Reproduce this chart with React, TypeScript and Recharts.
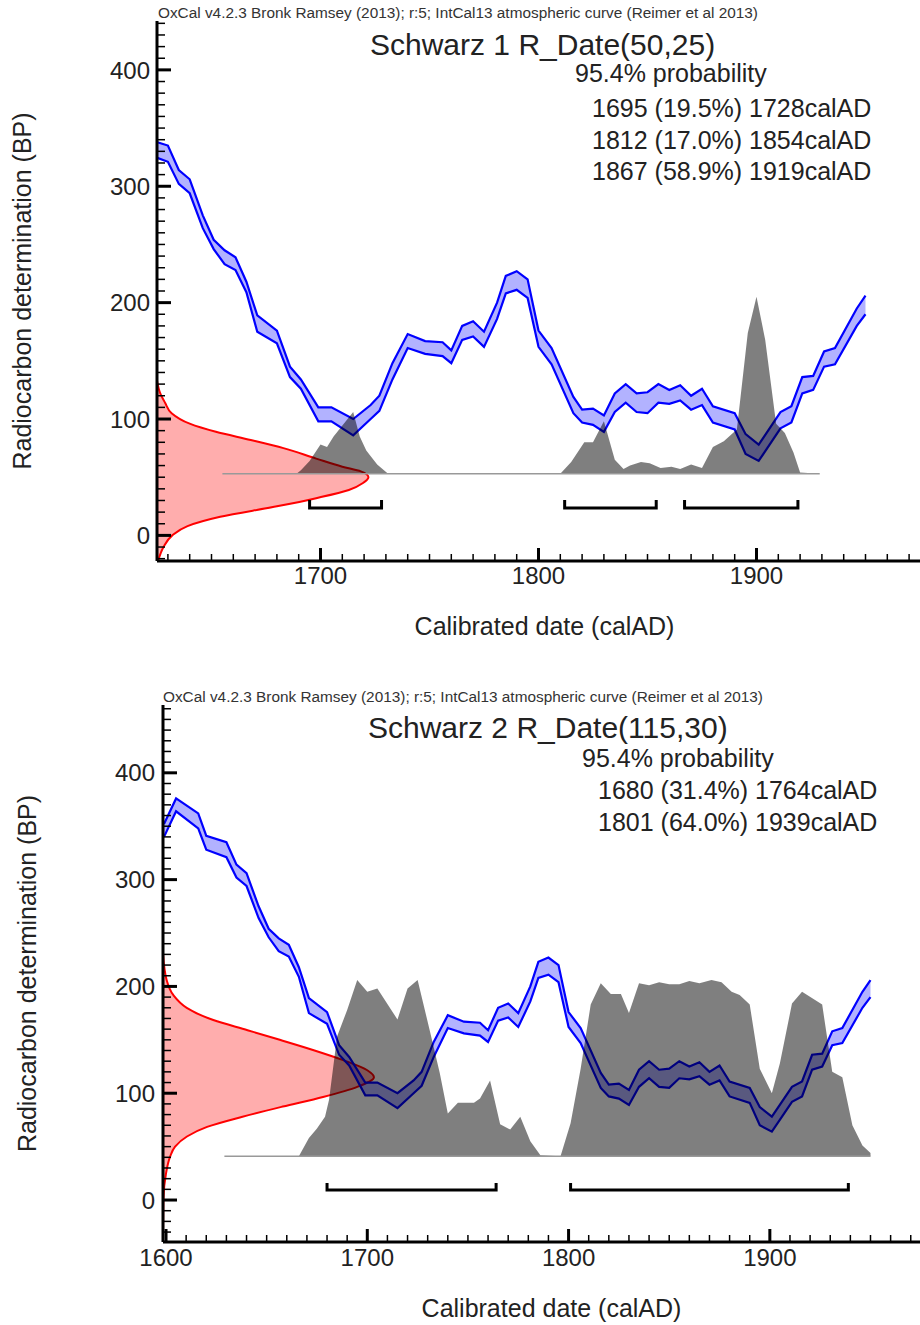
import React from 'react'
import { ComposedChart, Area, Line, XAxis, YAxis } from 'recharts'

// IntCal13 atmospheric curve: calAD year, upper and lower edge (BP)
const calYears = [1599, 1605, 1616, 1620, 1630, 1635, 1640, 1646, 1651, 1656, 1661, 1666, 1671, 1680, 1686, 1691, 1699, 1705, 1715, 1723, 1727, 1733, 1740, 1748, 1756, 1760, 1765, 1770, 1775, 1781, 1785, 1790, 1795, 1800, 1806, 1816, 1820, 1825, 1830, 1835, 1840, 1845, 1850, 1855, 1860, 1865, 1870, 1875, 1880, 1890, 1895, 1901, 1911, 1916, 1921, 1926, 1931, 1936, 1946, 1950]
const calHi = [352, 376, 362, 341, 335, 314, 306, 275, 254, 245, 239, 218, 189, 176, 145, 134, 110, 110, 100, 112, 120, 148, 173, 167, 166, 159, 180, 184, 175, 200, 223, 227, 220, 176, 161, 119, 108, 109, 103, 122, 130, 122, 123, 130, 125, 129, 120, 126, 111, 105, 87, 78, 106, 111, 136, 137, 158, 161, 195, 206]
const calLo = [340, 364, 348, 328, 321, 302, 294, 264, 246, 233, 228, 209, 175, 165, 136, 126, 98, 98, 86, 100, 107, 134, 161, 156, 154, 148, 168, 171, 162, 186, 208, 211, 204, 162, 147, 105, 97, 95, 89, 106, 114, 106, 105, 114, 113, 116, 108, 112, 97, 91, 70, 64, 92, 97, 122, 125, 145, 147, 180, 190]

const header = 'OxCal v4.2.3 Bronk Ramsey (2013); r:5; IntCal13 atmospheric curve (Reimer et al 2013)'
const probLabel = '95.4% probability'

// Schwarz 1
const s1Name = 'Schwarz 1'
const s1Mean = 50
const s1Sigma = 25
const s1From = [1695, 1812, 1867]
const s1To = [1728, 1854, 1919]
const s1Pct = ['19.5', '17.0', '58.9']
const s1HistYears = [1655, 1689, 1691, 1695, 1700, 1703, 1706, 1715, 1718, 1721, 1726, 1731, 1810, 1815, 1821, 1825, 1830, 1835, 1839, 1842, 1847, 1851, 1856, 1861, 1865, 1870, 1875, 1880, 1885, 1891, 1896, 1900, 1904, 1909, 1913, 1917, 1920, 1929]
const s1HistH = [0, 0, 3, 11, 25, 23, 32, 53, 32, 20, 8, 0, 0, 10, 27, 27, 45, 12, 4, 7, 10, 9, 5, 6, 4, 8, 5, 23, 28, 38, 121, 152, 115, 43, 35, 18, 1, 0]
const s1RedBp = [133, 122, 114, 105, 96, 89, 82, 75, 66, 59, 55, 50, 45, 39, 32, 25, 16, 8, 0, -10, -22]
const s1RedYear = [1625, 1626.5, 1628.7, 1631.7, 1640, 1652, 1668, 1683, 1698, 1710, 1718.5, 1722, 1719.5, 1713, 1698, 1680, 1654, 1639, 1632, 1628, 1625.5]

// Schwarz 2
const s2Name = 'Schwarz 2'
const s2Mean = 115
const s2Sigma = 30
const s2From = [1680, 1801]
const s2To = [1764, 1939]
const s2Pct = ['31.4', '64.0']
const s2HistYears = [1629, 1666, 1671, 1675, 1679, 1681, 1685, 1690, 1695, 1700, 1705, 1715, 1720, 1725, 1731, 1736, 1740, 1745, 1753, 1756, 1761, 1766, 1771, 1776, 1781, 1786, 1796, 1801, 1806, 1811, 1816, 1821, 1826, 1830, 1835, 1840, 1845, 1850, 1855, 1860, 1865, 1871, 1876, 1881, 1885, 1890, 1895, 1901, 1905, 1911, 1916, 1926, 1931, 1936, 1941, 1946, 1950]
const s2HistH = [0, 0, 17, 26, 37, 53, 112, 137, 165, 154, 157, 128, 157, 165, 118, 78, 40, 50, 50, 54, 71, 30, 25, 37, 14, 1, 0, 31, 82, 142, 162, 152, 152, 134, 162, 160, 163, 161, 161, 164, 162, 165, 163, 154, 151, 142, 82, 59, 87, 143, 154, 142, 79, 74, 29, 10, 3]
const s2RedBp = [231, 206, 192, 180, 168.5, 159, 150, 140.5, 131, 121.5, 115, 106, 96.5, 87.5, 78, 68.5, 59.5, 50, 40.5, 25, 0, -39]
const s2RedYear = [1598.5, 1600.3, 1603.6, 1610.3, 1623.5, 1640.5, 1656.5, 1673, 1688, 1700, 1703.3, 1695, 1678, 1658, 1638, 1620.4, 1610.4, 1604.5, 1602, 1600, 1598.7, 1598.5]

const FONT = '"Liberation Sans", Arial, Helvetica, sans-serif'
const INK = '#222'

const calData = calYears.map((year, i) => ({ year, hi: calHi[i], lo: calLo[i] }))

function steps(from: number, to: number, step: number) {
  const r: number[] = []
  for (let v = from; v <= to; v += step) r.push(v)
  return r
}

const makeXTick = (margin: number) => (props: any) => {
  const { x, y, payload } = props
  const v = Number(payload.value)
  const major = v % 100 === 0
  const ay = y - margin
  return (
    <g>
      <line x1={x} x2={x} y1={ay} y2={ay - (major ? 13 : 7)} stroke="#000" strokeWidth={major ? 3 : 1.5} />
      {major && (
        <text x={x} y={y} dy="0.36em" textAnchor="middle" fontSize={24} fill={INK}>{v}</text>
      )}
    </g>
  )
}

const makeYTick = (margin: number) => (props: any) => {
  const { x, y, payload } = props
  const v = Number(payload.value)
  const major = v % 100 === 0
  const ax = x + margin
  return (
    <g>
      <line x1={ax} x2={ax + (major ? 14 : 8)} y1={y} y2={y} stroke="#000" strokeWidth={major ? 3 : 1.5} />
      {major && (
        <text x={x} y={y} dy="0.36em" textAnchor="end" fontSize={24} fill={INK}>{v}</text>
      )}
    </g>
  )
}

type PanelProps = {
  top: number
  height: number
  yAxisWidth: number
  plotTop: number
  xAxisHeight: number
  xDomain: [number, number]
  yDomain: [number, number]
  xTicks: number[]
  yTicks: number[]
  xTickMargin: number
  yTickMargin: number
  histBase: number
  bracketBp: number
  bracketTopBp: number
  name: string
  mean: number
  sigma: number
  from: number[]
  to: number[]
  pct: string[]
  histYears: number[]
  histH: number[]
  redBp: number[]
  redYear: number[]
  headerPos: [number, number]
  titlePos: [number, number]
  probPos: [number, number]
  rangePos: [number, number]
  rangeStep: number
  xLabelOffset: number
  xLabelDx: number
  yLabelOffset: number
}

function Panel(p: PanelProps) {
  const W = 920
  const hist = p.histYears.map((year, i) => ({ year, h: p.histH[i] }))
  const red = p.redBp.map((bp, i) => ({ bp, year: p.redYear[i] }))
  const baseline = [
    { year: p.histYears[0], bp: p.histBase },
    { year: p.histYears[p.histYears.length - 1], bp: p.histBase },
  ]
  const brackets = p.from.map((f, i) => [
    { year: f, bp: p.bracketTopBp },
    { year: f, bp: p.bracketBp },
    { year: p.to[i], bp: p.bracketBp },
    { year: p.to[i], bp: p.bracketTopBp },
  ])

  return (
    <div style={{ position: 'absolute', left: 0, top: p.top, width: W, height: p.height }}>
      {/* measured date distribution on the BP axis, drawn sideways */}
      <div style={{ position: 'absolute', left: 0, top: 0 }}>
        <ComposedChart
          layout="vertical"
          width={W}
          height={p.height}
          data={red}
          margin={{ top: p.plotTop, right: 0, bottom: p.xAxisHeight, left: p.yAxisWidth }}
        >
          <XAxis type="number" hide domain={p.xDomain} allowDataOverflow />
          <YAxis type="number" dataKey="bp" hide domain={p.yDomain} allowDataOverflow reversed />
          <Area
            dataKey="year"
            type="monotone"
            stroke="#ff0000"
            strokeWidth={2}
            fill="#ff0000"
            fillOpacity={0.32}
            isAnimationActive={false}
          />
        </ComposedChart>
      </div>

      <div style={{ position: 'absolute', left: 0, top: 0 }}>
        <ComposedChart width={W} height={p.height} margin={{ top: p.plotTop, right: 0, bottom: 0, left: 0 }}>
          <XAxis
            type="number"
            dataKey="year"
            domain={p.xDomain}
            allowDataOverflow
            ticks={p.xTicks}
            interval={0}
            height={p.xAxisHeight}
            tickSize={0}
            tickMargin={p.xTickMargin}
            tickLine={false}
            tick={makeXTick(p.xTickMargin)}
            axisLine={{ stroke: '#000', strokeWidth: 3 }}
            label={{
              value: 'Calibrated date (calAD)',
              position: 'insideBottom',
              offset: p.xLabelOffset,
              dx: p.xLabelDx,
              fontSize: 25,
              fill: INK,
            }}
          />
          <XAxis
            xAxisId="top"
            orientation="top"
            type="number"
            domain={p.xDomain}
            allowDataOverflow
            height={0}
            tick={false}
            tickLine={false}
            axisLine={{ stroke: '#000', strokeWidth: 3 }}
          />
          <YAxis
            type="number"
            domain={p.yDomain}
            allowDataOverflow
            ticks={p.yTicks}
            interval={0}
            width={p.yAxisWidth}
            tickSize={0}
            tickMargin={p.yTickMargin}
            tickLine={false}
            tick={makeYTick(p.yTickMargin)}
            axisLine={{ stroke: '#000', strokeWidth: 3 }}
            label={{
              value: 'Radiocarbon determination (BP)',
              angle: -90,
              position: 'insideLeft',
              offset: p.yLabelOffset,
              fontSize: 25,
              fill: INK,
              textAnchor: 'middle',
              style: { textAnchor: 'middle' },
            }}
          />
          <Area
            data={calData}
            dataKey={(d: any) => [d.lo, d.hi]}
            type="linear"
            stroke="#0000ff"
            strokeWidth={2.2}
            fill="#0000ff"
            fillOpacity={0.3}
            isAnimationActive={false}
          />
          <Area
            data={hist}
            dataKey={(d: any) => [p.histBase, p.histBase + d.h]}
            type="linear"
            stroke="none"
            fill="#000"
            fillOpacity={0.5}
            isAnimationActive={false}
          />
          <Line
            data={baseline}
            dataKey="bp"
            type="linear"
            stroke="#999"
            strokeWidth={1.5}
            dot={false}
            isAnimationActive={false}
          />
          {brackets.map((b, i) => (
            <Line
              key={i}
              data={b}
              dataKey="bp"
              type="linear"
              stroke="#000"
              strokeWidth={3}
              dot={false}
              isAnimationActive={false}
            />
          ))}
        </ComposedChart>
      </div>

      <svg
        width={W}
        height={p.height}
        style={{ position: 'absolute', left: 0, top: 0, pointerEvents: 'none' }}
      >
        <text x={p.headerPos[0]} y={p.headerPos[1]} fontSize={14} fill="#333" textLength={600} lengthAdjust="spacingAndGlyphs">
          {header}
        </text>
        <text x={p.titlePos[0]} y={p.titlePos[1]} fontSize={30} fill={INK}>
          {`${p.name} R_Date(${p.mean},${p.sigma})`}
        </text>
        <text x={p.probPos[0]} y={p.probPos[1]} fontSize={25} fill={INK}>
          {probLabel}
        </text>
        {p.from.map((f, i) => (
          <text key={i} x={p.rangePos[0]} y={p.rangePos[1] + i * p.rangeStep} fontSize={25} fill={INK}>
            {`${f} (${p.pct[i]}%) ${p.to[i]}calAD`}
          </text>
        ))}
      </svg>
    </div>
  )
}

export default function App() {
  return (
    <div
      style={{
        position: 'absolute',
        left: 0,
        top: 0,
        width: 920,
        height: 1325,
        overflow: 'hidden',
        background: '#fff',
        fontFamily: FONT,
      }}
    >
      <Panel
        top={0}
        height={660}
        yAxisWidth={157}
        plotTop={21}
        xAxisHeight={99}
        xDomain={[1625, 1975]}
        yDomain={[-22, 442]}
        xTicks={steps(1630, 1970, 10)}
        yTicks={steps(-20, 440, 10)}
        xTickMargin={14}
        yTickMargin={7}
        histBase={53}
        bracketBp={23.6}
        bracketTopBp={30.5}
        name={s1Name}
        mean={s1Mean}
        sigma={s1Sigma}
        from={s1From}
        to={s1To}
        pct={s1Pct}
        histYears={s1HistYears}
        histH={s1HistH}
        redBp={s1RedBp}
        redYear={s1RedYear}
        headerPos={[158, 18]}
        titlePos={[370, 55]}
        probPos={[575, 82]}
        rangePos={[592, 117]}
        rangeStep={31.7}
        xLabelOffset={25}
        xLabelDx={6}
        yLabelOffset={22}
      />
      <Panel
        top={680}
        height={645}
        yAxisWidth={163}
        plotTop={25}
        xAxisHeight={83}
        xDomain={[1598.5, 1974.6]}
        yDomain={[-39.3, 463.5]}
        xTicks={steps(1600, 1970, 10)}
        yTicks={steps(-30, 460, 10)}
        xTickMargin={15}
        yTickMargin={8}
        histBase={41}
        bracketBp={9.4}
        bracketTopBp={16}
        name={s2Name}
        mean={s2Mean}
        sigma={s2Sigma}
        from={s2From}
        to={s2To}
        pct={s2Pct}
        histYears={s2HistYears}
        histH={s2HistH}
        redBp={s2RedBp}
        redYear={s2RedYear}
        headerPos={[163, 22]}
        titlePos={[368, 58]}
        probPos={[582, 87]}
        rangePos={[598, 119]}
        rangeStep={31.5}
        xLabelOffset={8}
        xLabelDx={10}
        yLabelOffset={27}
      />
    </div>
  )
}
